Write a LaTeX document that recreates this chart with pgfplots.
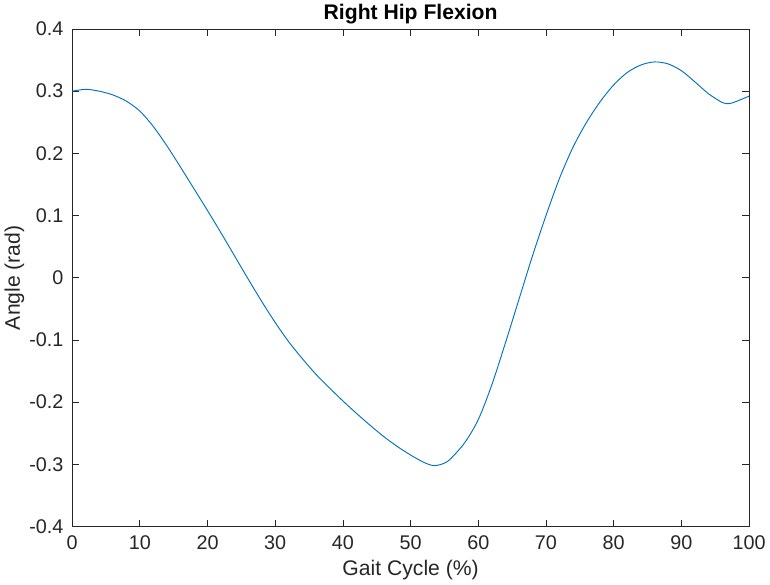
\documentclass[border=0pt]{standalone}
\usepackage{fontspec}
\setmainfont{Liberation Sans}
\usepackage{pgfplots}
\pgfplotsset{compat=1.18}
\definecolor{mlblue}{RGB}{0,114,189}
\definecolor{axgray}{RGB}{38,38,38}

\begin{document}
\begin{tikzpicture}
\begin{axis}[
  width=506pt, height=372pt, scale only axis,
  xmin=0, xmax=100, ymin=-0.4, ymax=0.4,
  xtick={0,10,...,100},
  ytick={-0.4,-0.3,...,0.4},
  yticklabel style={xshift=-3pt, /pgf/number format/.cd, fixed, fixed zerofill=false, precision=1},
  /pgf/number format/assume math mode=true,
  tick align=inside, major tick length=5pt,
  axis line style={axgray, line width=0.6pt},
  tick style={axgray, line width=0.6pt},
  tick label style={font=\fontsize{14.8}{16}\selectfont, text=axgray},
  xticklabel style={yshift=-3pt},
  label style={font=\fontsize{15.8}{17}\selectfont, text=axgray},
  title style={font=\fontsize{15.8}{17}\selectfont\bfseries, yshift=-6pt},
  title={Right Hip Flexion},
  xlabel={Gait Cycle (\%)},
  ylabel={Angle (rad)},
  xlabel style={yshift=-1pt},
  ylabel style={yshift=-3pt},
]
\addplot[mlblue, line width=0.7pt, smooth, tension=0.5] coordinates {
  (0,0.300) (2,0.303) (4,0.300) (6,0.294) (8,0.284) (10,0.268)
  (12,0.243) (14,0.212) (16,0.178) (18,0.143) (20,0.108) (22,0.072)
  (24,0.035) (26,-0.002) (28,-0.038) (30,-0.072) (32,-0.103) (34,-0.130)
  (36,-0.155) (38,-0.177) (40,-0.198) (42,-0.218) (44,-0.237) (46,-0.255)
  (48,-0.271) (50,-0.285) (52,-0.297) (53.5,-0.302) (55,-0.298) (56,-0.290)
  (58,-0.265) (60,-0.228) (62,-0.172) (64,-0.105) (66,-0.035) (68,0.035)
  (70,0.100) (72,0.160) (74,0.210) (76,0.250) (78,0.283) (80,0.310)
  (82,0.330) (84,0.342) (86,0.347) (88,0.344) (90,0.333) (92,0.315)
  (94,0.296) (96,0.282) (97,0.280) (98,0.283) (100,0.292)
};
\end{axis}
\end{tikzpicture}
\end{document}
